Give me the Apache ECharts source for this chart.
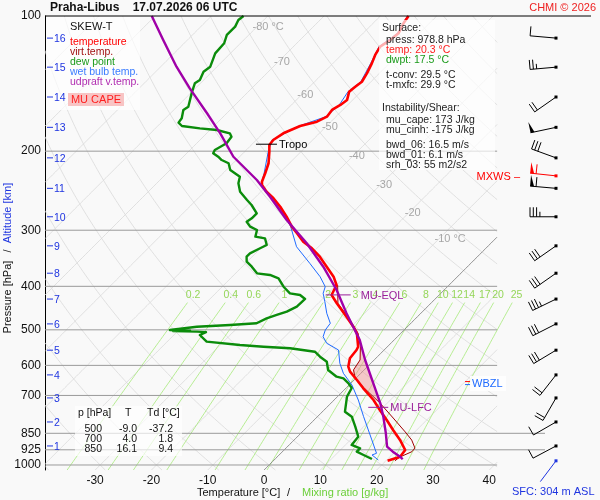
<!DOCTYPE html>
<html>
<head>
<meta charset="utf-8">
<title>Skew-T Praha-Libus</title>
<script src="https://cdn.jsdelivr.net/npm/echarts@6.0.0/dist/echarts.min.js"></script>
<style>
html, body { margin: 0; padding: 0; background: #f9f9f9; }
#skewt { width: 600px; height: 500px; }
</style>
</head>
<body>
<div id="skewt"></div>
<script>
// sounding: pressure [hPa] / temperature [°C]
var tempP = [100, 103.8, 109.3, 113.1, 117.0, 122.1, 127.5, 134.2, 140.1, 143.7, 147.4, 153.8, 157.8, 161.9, 167.6, 171.9, 175.8, 182.5, 188.9, 193.8, 200.6, 212.8, 224.1, 233.9, 237.9, 246.2, 254.7, 265.9, 279.9, 294.6, 304.8, 318.2, 329.1, 343.6, 361.7, 380.7, 397.3, 418.2, 436.4, 467.4, 492.0, 508.9, 545.2, 554.5, 578.6, 604.0, 619.7, 646.7, 674.8, 716.6, 754.3, 794.0, 835.6, 879.5, 925.9, 958.3, 978.8];
var tempT = [-54.1, -53.7, -52.8, -53.1, -53.7, -53.1, -52.2, -51.3, -50.7, -51.0, -51.2, -50.1, -50.4, -51.0, -50.7, -51.6, -53.8, -55.5, -56.1, -55.9, -54.7, -52.8, -51.6, -50.7, -50.1, -48.1, -45.7, -43.0, -40.1, -37.4, -35.3, -32.7, -30.0, -27.1, -24.1, -21.1, -19.1, -18.2, -15.8, -11.7, -8.7, -6.9, -4.3, -4.0, -3.7, -2.5, -1.3, 1.4, 4.0, 7.9, 10.8, 13.8, 16.7, 19.7, 22.4, 22.7, 21.2];

var virtP = [397.3, 436.4, 467.4, 508.9, 545.2, 583.6, 614, 640, 670, 728, 786, 844, 880, 917, 934, 960, 978.8];
var virtT = [-18.9, -15.6, -11.5, -6.7, -3.9, -1.6, -1.0, 0.7, 3.7, 9.6, 14.6, 19.2, 21.8, 23.8, 23.9, 22.7, 22.5];

var dewP = [100, 102.1, 105.6, 110.2, 115.0, 121.1, 129.7, 133.1, 138.8, 141.2, 147.4, 159.2, 161.9, 169.0, 172.8, 175.8, 177.9, 179.4, 182.5, 185.7, 192.1, 198.8, 202.2, 205.8, 209.3, 212.8, 220.3, 228.0, 235.8, 246.2, 256.9, 263.6, 275.1, 282.2, 287.2, 294.6, 299.6, 310.1, 312.7, 323.6, 329.1, 337.7, 343.6, 352.5, 361.7, 374.2, 377.4, 383.8, 400.8, 414.6, 418.2, 426.8, 444.0, 455.5, 463.3, 471.3, 483.5, 487.8, 492.0, 500.4, 502.0, 503.0, 504.7, 506.0, 513.4, 531.3, 540.4, 545.2, 549.7, 559.3, 573.8, 588.8, 614.3, 635.8, 641.1, 657.8, 673.8, 704.5, 760.7, 780.5, 821.6, 864.8, 902.5, 918.0, 933.9, 949.9, 969.8];
var dewT = [-83.4, -83.6, -83.0, -83.0, -82.0, -81.8, -80.3, -80.6, -79.8, -80.1, -79.1, -77.1, -77.4, -76.2, -76.0, -74.8, -71.2, -67.9, -65.0, -64.1, -63.8, -64.7, -64.4, -62.9, -61.7, -59.9, -58.4, -55.5, -54.6, -52.8, -50.1, -48.4, -46.0, -46.0, -46.3, -44.8, -43.0, -42.1, -40.1, -38.6, -39.2, -40.1, -40.1, -39.2, -37.4, -35.3, -32.7, -30.6, -28.2, -25.9, -23.8, -22.2, -22.3, -23.2, -24.4, -25.6, -26.5, -30.9, -36.5, -40.7, -37.0, -40.0, -35.6, -33.9, -34.5, -32.1, -25.6, -21.1, -16.1, -11.1, -9.3, -7.2, -5.5, -2.8, -1.3, 0.5, 1.9, 2.6, 4.9, 7.0, 9.4, 11.7, 12.0, 14.1, 14.1, 15.9, 18.1];

var wetP = [100, 109.3, 117.0, 127.5, 140.1, 147.4, 157.8, 167.6, 175.8, 188.9, 200.6, 224.1, 237.9, 254.7, 279.9, 294.6, 326.5, 355.5, 380.7, 400.8, 414.6, 432.9, 459.4, 483.5, 500.4, 517.9, 535.6, 554.5, 593.6, 624.8, 663.5, 716.6, 780.5, 835.6, 879.5, 925.9, 941.7, 949.9, 974.7];
var wetT = [-54.3, -53.0, -53.9, -52.4, -50.9, -51.4, -50.6, -50.9, -54.0, -56.3, -54.9, -51.8, -50.3, -45.9, -40.3, -37.6, -33.0, -27.7, -23.5, -20.8, -20.0, -18.2, -15.8, -13.4, -13.1, -12.3, -10.5, -7.2, -4.6, -2.2, 1.4, 5.2, 9.1, 12.3, 14.7, 17.1, 17.9, 17.4, 19.4];

// most unstable parcel (updraft virtual temperature)
var parcelP = [100, 113.1, 129.7, 144.9, 164.7, 182.5, 205.8, 231.9, 252.6, 284.7, 320.8, 361.7, 407.6, 459.4, 526.8, 583.6, 657.8, 728.8, 780.5, 849.9, 910.4, 933.9, 958.3, 970.9];
var parcelT = [-99.7, -93.4, -86.3, -80.1, -72.6, -66.7, -60.2, -51.9, -46.6, -39.5, -31.8, -24.7, -18.2, -12.3, -5.2, -0.7, 4.9, 9.7, 12.6, 16.0, 18.6, 20.5, 22.7, 23.6];

// special levels [hPa]
var tropoP = 193, eqlP = 418, lfcP = 744, capeTopP = 545, wbzlP = 657;

// axes
var pressLevels = [100, 200, 300, 400, 500, 600, 700, 850, 925, 1000];
var tempTicks = [-30, -20, -10, 0, 10, 20, 30, 40];
var altKm = [1, 2, 3, 4, 5, 6, 7, 8, 9, 10, 11, 12, 13, 14, 15, 16];
var altP = [907, 802, 709, 630, 555, 485, 427, 374, 325, 280, 242, 207, 177, 151.5, 130, 112];
var isoLabelT = [-80, -70, -60, -50, -40, -30, -20, -10];
var isoLabelP = [105.9, 126.6, 149.9, 176.4, 205.0, 237.9, 274.2, 314.3];
var mixRatios = [0.2, 0.4, 0.6, 1, 2, 3, 4, 6, 8, 10, 12, 14, 17, 20, 25];

// wind per km of altitude (deg, kt)
var windDir = [242, 240, 210, 218, 239, 243, 244, 235, 235, 270, 275, 290, 258, 235, 265, 275];
var windSpd = [10, 10, 20, 20, 30, 30, 35, 30, 30, 35, 60, 30, 50, 20, 25, 10];
var mxwsP = 227, mxwsDir = 276, mxwsSpd = 60;
var sfcP = 978.8, sfcDir = 217, sfcSpd = 0;

var FONT = '"Liberation Sans", Arial, sans-serif';
function font(sz, bold) { return (bold ? 'bold ' : '') + sz + 'px ' + FONT; }

var SKEW = 34.64;              // deg C per unit of ln(p): 45 degree isotherms
var X_MIN = -38.9, X_MAX = 49.9, X_EDGE = 41.4;
var P_TOP = 100, P_BOT = 1026;
var GRID_SHIFT = 0.9, MIX_SHIFT = 0.45;   // background lines sit a little right of the tick labels

function skewX(t, p) { return t + SKEW * Math.log(1000 / p); }
function profile(P, T) { return P.map(function (p, i) { return [skewX(T[i], p), p]; }); }
function interpT(P, T, p) {
    for (var i = 0; i < P.length - 1; i++) {
        if ((p - P[i]) * (p - P[i + 1]) <= 0) {
            var f = (Math.log(p) - Math.log(P[i])) / (Math.log(P[i + 1]) - Math.log(P[i]));
            return T[i] + f * (T[i + 1] - T[i]);
        }
    }
    return T[T.length - 1];
}
function dewFromMix(w, p) {
    var a = Math.log(w * p / (622 + w) / 6.112);
    return 243.5 * a / (17.67 - a);
}

// cut a line to the x range of the diagram
function clipSegments(pts, lo, hi) {
    var segs = [], cur = [];
    for (var i = 0; i < pts.length; i++) {
        var a = pts[i], aIn = a[0] >= lo && a[0] <= hi;
        if (i > 0) {
            var b = pts[i - 1], bIn = b[0] >= lo && b[0] <= hi;
            if (aIn !== bIn) {
                var edge = aIn ? (b[0] < lo ? lo : hi) : (a[0] < lo ? lo : hi);
                var f = (edge - b[0]) / (a[0] - b[0]);
                cur.push([edge, Math.exp(Math.log(b[1]) + f * (Math.log(a[1]) - Math.log(b[1])))]);
                if (!aIn) { if (cur.length > 1) segs.push(cur); cur = []; }
            }
        }
        if (aIn) cur.push(a);
    }
    if (cur.length > 1) segs.push(cur);
    return segs;
}

var sampleP = [];
for (var i = 0; i <= 160; i++) sampleP.push(P_TOP * Math.pow(P_BOT / P_TOP, i / 160));

var isoLines = [], zeroLine = [], adiabatLines = [], mixLines = [], pressLines = [];
for (var t = -110; t <= 40; t += 10) {
    var segs = clipSegments(sampleP.map(function (p) { return [skewX(t, p) + GRID_SHIFT, p]; }), X_MIN, X_EDGE);
    if (t === 0) zeroLine = segs; else isoLines = isoLines.concat(segs);
}
for (var th = -40; th <= 180; th += 10) {
    var thK = th + 273.15;
    adiabatLines = adiabatLines.concat(clipSegments(sampleP.map(function (p) {
        return [skewX(thK * Math.pow(p / 1000, 0.2857) - 273.15, p) + GRID_SHIFT, p];
    }), X_MIN, X_EDGE));
}
var mixP = sampleP.filter(function (p) { return p >= 430; });
mixRatios.forEach(function (w) {
    mixLines.push(mixP.map(function (p) { return [skewX(dewFromMix(w, p), p) + MIX_SHIFT, p]; }));
});
pressLevels.forEach(function (p) {
    if (p === P_TOP) return;
    pressLines.push([[X_MIN, p], [(p === 850 || p === 925) ? X_MAX : X_EDGE, p]]);
});

function lineSet(lines, color, width, z) {
    return {
        type: 'custom', silent: true, z: z,
        data: lines.map(function (l) { return [l[0][0], l[0][1]]; }),
        encode: { x: 0, y: 1 },
        renderItem: function (params, api) {
            return {
                type: 'polyline',
                shape: { points: lines[params.dataIndex].map(function (pt) { return api.coord(pt); }) },
                style: { stroke: color, lineWidth: width, fill: null }
            };
        }
    };
}
function pointSet(items, build, z, axisIdx) {
    return {
        type: 'custom', silent: true, z: z,
        xAxisIndex: axisIdx || 0, yAxisIndex: axisIdx || 0,
        data: items.map(function (it) { return [it.x, it.p]; }),
        encode: { x: 0, y: 1 },
        renderItem: function (params, api) {
            var pt = api.coord([api.value(0), api.value(1)]);
            return { type: 'group', children: build(items[params.dataIndex], pt) };
        }
    };
}
function txt(x, y, s, f, color, align) {
    return { type: 'text', x: x, y: y, style: { text: s, font: f, fill: color, align: align || 'left', verticalAlign: 'middle' } };
}
function seg(x1, y1, x2, y2, color, w) {
    return { type: 'line', shape: { x1: x1, y1: y1, x2: x2, y2: y2 }, style: { stroke: color, lineWidth: w || 1 } };
}
function curve(P, T, color, width, z) {
    return {
        type: 'line', data: profile(P, T), showSymbol: false, symbol: 'none', silent: true, z: z,
        lineStyle: { color: color, width: width, join: 'round' }
    };
}

// CAPE area between parcel and virtual temperature
var capeLevels = [capeTopP, lfcP];
parcelP.concat(virtP).forEach(function (p) { if (p > capeTopP && p < lfcP) capeLevels.push(p); });
capeLevels.sort(function (a, b) { return a - b; });
var capeRight = capeLevels.map(function (p) { return [skewX(interpT(parcelP, parcelT, p), p), p]; });
var capeLeft = capeLevels.map(function (p) { return [skewX(interpT(virtP, virtT, p), p), p]; }).reverse();
var capePoly = capeRight.concat(capeLeft);

// wind barbs
function barb(cx, cy, dir, spd, color) {
    var a = dir * Math.PI / 180, ux = Math.sin(a), uy = -Math.cos(a);
    var nx = -uy, ny = ux, L = 26;
    var tx = cx + ux * L, ty = cy + uy * L;
    var kids = [seg(cx, cy, tx, ty, color, 1),
        { type: 'rect', shape: { x: cx - 1.5, y: cy - 1.5, width: 3, height: 3 }, style: { fill: color } }];
    var rest = Math.round(spd / 5) * 5, d = 0;
    while (rest >= 50) {
        var bx = tx - ux * d, by = ty - uy * d;
        kids.push({ type: 'polygon', shape: { points: [[bx, by], [bx + nx * 11, by + ny * 11], [bx - ux * 4, by - uy * 4]] }, style: { fill: color } });
        d += 6; rest -= 50;
    }
    while (rest >= 10) {
        var fx = tx - ux * d, fy = ty - uy * d;
        kids.push(seg(fx, fy, fx + nx * 9.5, fy + ny * 9.5, color, 1));
        d += 3.3; rest -= 10;
    }
    if (rest >= 5) {
        if (d === 0) d = 3.3;
        var hx = tx - ux * d, hy = ty - uy * d;
        kids.push(seg(hx, hy, hx + nx * 5, hy + ny * 5, color, 1));
    }
    return kids;
}
var windItems = altP.map(function (p, i) { return { x: 0.5, p: p, dir: windDir[i], spd: windSpd[i], color: '#000' }; });
windItems.push({ x: 0.5, p: mxwsP, dir: mxwsDir, spd: mxwsSpd, color: '#ff0000', label: 'MXWS \u2013' });
windItems.push({ x: 0.5, p: sfcP, dir: sfcDir, spd: sfcSpd, color: '#1f35e0' });

var markItems = [
    { x: skewX(interpT(tempP, tempT, tropoP), tropoP), p: tropoP, from: -14, to: 7, dx: 9, text: 'Tropo', color: '#000' },
    { x: skewX(interpT(parcelP, parcelT, eqlP), eqlP), p: eqlP, from: -13, to: 12, dx: 22, text: 'MU-EQL', color: '#9a1f9a' },
    { x: skewX(interpT(parcelP, parcelT, lfcP), lfcP), p: lfcP, from: -13, to: 7, dx: 9, text: 'MU-LFC', color: '#9a1f9a' }
];

var series = [
    lineSet(adiabatLines, '#d9d9d9', 0.8, 1),
    lineSet(isoLines, '#d9d9d9', 0.8, 1),
    lineSet(mixLines, '#a6ea78', 0.8, 1),
    lineSet(zeroLine, '#7a7a7a', 0.8, 1),
    lineSet(pressLines, '#9a9a9a', 1, 1),
    // isotherm labels
    pointSet(isoLabelT.map(function (t, i) {
        return { x: skewX(t, isoLabelP[i]), p: isoLabelP[i], s: (t === -80 || t === -10) ? t + ' \u00b0C' : String(t) };
    }), function (it, pt) { return [txt(pt[0] + 1, pt[1], it.s, font(11), '#a6a6a6')]; }, 1),
    // mixing ratio labels
    pointSet(mixRatios.map(function (w) { return { x: skewX(dewFromMix(w, 418), 418) + MIX_SHIFT, p: 418, s: String(w) }; }),
        function (it, pt) { return [txt(pt[0], pt[1], it.s, font(10.5), '#96d65a', 'center')]; }, 1),
    // CAPE shading
    {
        type: 'custom', silent: true, z: 2, data: [[capePoly[0][0], capePoly[0][1]]], encode: { x: 0, y: 1 },
        renderItem: function (params, api) {
            return { type: 'polygon', shape: { points: capePoly.map(function (pt) { return api.coord(pt); }) },
                style: { fill: 'rgba(240,140,140,0.45)' } };
        }
    },
    curve(wetP, wetT, '#1f6bff', 1, 3),
    curve(virtP, virtT, '#a00000', 1, 4),
    curve(tempP, tempT, '#ff0000', 2.6, 5),
    curve(dewP, dewT, '#0b8c0b', 2.4, 5),
    curve(parcelP, parcelT, '#a000a8', 2.4, 6),
    // level markers
    pointSet(markItems, function (it, pt) {
        return [seg(pt[0] + it.from, pt[1], pt[0] + it.to, pt[1], it.color, 1),
            txt(pt[0] + it.dx, pt[1] + 1, it.text, font(11), it.color)];
    }, 7),
    // wet bulb zero level
    pointSet([{ x: 35.7, p: wbzlP }], function (it, pt) {
        return [{ type: 'rect', shape: { x: pt[0] + 5, y: pt[1] - 7, width: 36, height: 15 }, style: { fill: 'rgba(255,255,255,0.85)' } },
            seg(pt[0], pt[1] - 1.5, pt[0] + 5, pt[1] - 1.5, '#ff0000', 1),
            seg(pt[0], pt[1] + 1.5, pt[0] + 5, pt[1] + 1.5, '#1f6bff', 1),
            txt(pt[0] + 7, pt[1] + 1, 'WBZL', font(11), '#1f6bff')];
    }, 7),
    // pressure tick labels
    pointSet(pressLevels.map(function (p) { return { x: X_MIN, p: p }; }),
        function (it, pt) { return [txt(pt[0] - 4, pt[1], String(it.p), font(12), '#111', 'right')]; }, 12),
    // altitude ticks
    pointSet(altP.map(function (p, i) { return { x: X_MIN, p: p, km: altKm[i] }; }),
        function (it, pt) {
            return [seg(pt[0] + 2, pt[1], pt[0] + 8, pt[1], '#1f35e0', 1),
                txt(pt[0] + 9, pt[1] + 1, String(it.km), font(10.5), '#1f35e0')];
        }, 12),
    // temperature tick labels
    pointSet(tempTicks.map(function (t) { return { x: t, p: P_BOT, s: String(t) }; }),
        function (it, pt) { return [txt(pt[0], pt[1] + 11, it.s, font(12), '#111', 'center')]; }, 12),
    // wind barbs
    pointSet(windItems, function (it, pt) {
        var kids = barb(pt[0], pt[1], it.dir, it.spd, it.color);
        if (it.label) kids.push(txt(pt[0] - 36, pt[1] + 1, it.label, font(11), it.color, 'right'));
        return kids;
    }, 12, 1)
];

var BOX = 'rgba(255,255,255,0.68)';
var graphics = [
    { type: 'line', z: 11, shape: { x1: 45, y1: 16, x2: 591, y2: 16 }, style: { stroke: '#000', lineWidth: 1 } },
    { type: 'text', z: 11, x: 50, y: 8, style: { text: 'Praha-Libus    17.07.2026 06 UTC', font: font(12, true), fill: '#111', verticalAlign: 'middle' } },
    { type: 'text', z: 11, x: 596, y: 8, style: { text: 'CHMI \u00a9 2026', font: font(11), fill: '#ee2222', align: 'right', verticalAlign: 'middle' } },
    // legend
    { type: 'rect', z: 9, shape: { x: 46, y: 17, width: 94, height: 93 }, style: { fill: BOX } },
    { type: 'rect', z: 10, shape: { x: 68, y: 93, width: 56, height: 13 }, style: { fill: '#f8c4c4' } },
    // surface and instability box
    { type: 'rect', z: 9, shape: { x: 379, y: 20, width: 116, height: 150 }, style: { fill: BOX } },
    // table
    { type: 'rect', z: 9, shape: { x: 75, y: 406, width: 107, height: 50 }, style: { fill: BOX } }
];
function gtext(x, y, s, color, align, size, rot) {
    var el = { type: 'text', z: 11, x: x, y: y, style: { text: s, font: font(size || 10.5), fill: color, align: align || 'left', verticalAlign: 'middle' } };
    if (rot) el.rotation = rot;
    return el;
}
graphics.push(
    gtext(70, 27, 'SKEW-T', '#111', 'left', 11),
    gtext(70, 42, 'temperature', '#ff0000'),
    gtext(70, 52, 'virt.temp.', '#a01010'),
    gtext(70, 62, 'dew point', '#1a9a1a'),
    gtext(70, 72, 'wet bulb temp.', '#3a7cff'),
    gtext(70, 82, 'udpraft v.temp.', '#b02cb0'),
    gtext(96, 100, 'MU CAPE', '#ff2020', 'center', 11),

    gtext(382, 28, 'Surface:', '#222'),
    gtext(386, 40, 'press: 978.8 hPa', '#222'),
    gtext(386, 50, 'temp: 20.3 \u00b0C', '#ff2020'),
    gtext(386, 60, 'dwpt: 17.5 \u00b0C', '#1a9a1a'),
    gtext(386, 75, 't-conv: 29.5 \u00b0C', '#222'),
    gtext(386, 85, 't-mxfc: 29.9 \u00b0C', '#222'),
    gtext(382, 108, 'Instability/Shear:', '#222'),
    gtext(386, 120, 'mu_cape: 173 J/kg', '#222'),
    gtext(386, 130, 'mu_cinh: -175 J/kg', '#222'),
    gtext(386, 145, 'bwd_06: 16.5 m/s', '#222'),
    gtext(386, 155, 'bwd_01: 6.1 m/s', '#222'),
    gtext(386, 165, 'srh_03: 55 m2/s2', '#222'),

    gtext(78, 413, 'p [hPa]', '#111'),
    gtext(125, 413, 'T', '#111'),
    gtext(147, 413, 'Td [\u00b0C]', '#111'),
    gtext(102, 429, '500', '#111', 'right'), gtext(137, 429, '-9.0', '#111', 'right'), gtext(173, 429, '-37.2', '#111', 'right'),
    gtext(102, 439, '700', '#111', 'right'), gtext(137, 439, '4.0', '#111', 'right'), gtext(173, 439, '1.8', '#111', 'right'),
    gtext(102, 449, '850', '#111', 'right'), gtext(137, 449, '16.1', '#111', 'right'), gtext(173, 449, '9.4', '#111', 'right'),

    gtext(197, 493, 'Temperature [\u00b0C]', '#111', 'left', 11),
    gtext(287, 493, '/', '#111', 'left', 11),
    gtext(302, 493, 'Mixing ratio [g/kg]', '#6ccf3a', 'left', 11),
    gtext(512, 492, 'SFC: 304 m ASL', '#1f35e0', 'left', 11),
    gtext(8, 297, 'Pressure [hPa]', '#111', 'center', 11, Math.PI / 2),
    gtext(8, 251, '/', '#111', 'center', 11, Math.PI / 2),
    gtext(8, 213, 'Altitude [km]', '#1f35e0', 'center', 11, Math.PI / 2)
);

var option = {
    animation: false,
    backgroundColor: '#f9f9f9',
    textStyle: { fontFamily: FONT },
    grid: [
        { left: 45, right: 55, top: 16, bottom: 30 },
        { left: 546, width: 20, top: 16, bottom: 30 }
    ],
    xAxis: [
        { type: 'value', min: X_MIN, max: X_MAX, axisLine: { show: false }, axisTick: { show: false },
          axisLabel: { show: false }, splitLine: { show: false } },
        { type: 'value', gridIndex: 1, min: 0, max: 1, show: false }
    ],
    yAxis: [
        { type: 'log', logBase: 10, min: P_TOP, max: P_BOT, inverse: true,
          axisLine: { show: true, onZero: false, lineStyle: { color: '#000', width: 1 } },
          axisTick: { show: false }, axisLabel: { show: false }, splitLine: { show: false },
          minorTick: { show: false }, minorSplitLine: { show: false } },
        { type: 'log', logBase: 10, gridIndex: 1, min: P_TOP, max: P_BOT, inverse: true, show: false }
    ],
    series: series,
    graphic: graphics
};

var chart = echarts.init(document.getElementById('skewt'));
chart.setOption(option);
</script>
</body>
</html>
